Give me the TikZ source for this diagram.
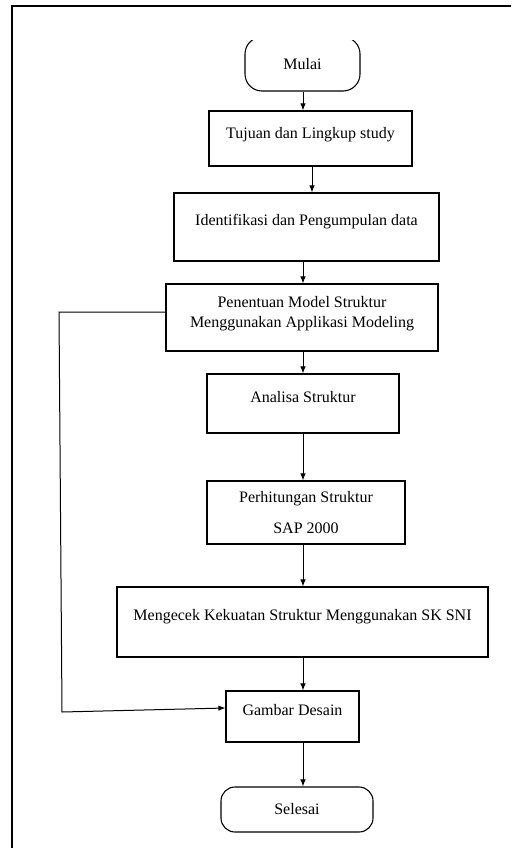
\documentclass[tikz,border=0pt]{standalone}
\usepackage{fontspec}
\setmainfont{Liberation Serif}
\usetikzlibrary{arrows.meta}
\newcommand\dnstrut[1]{\rule[-#1pt]{0pt}{#1pt}}
\begin{document}
\begin{tikzpicture}[x=1pt,y=-1pt,
  box/.style={draw=black, line width=1.1pt, inner sep=2pt, font=\fontsize{16}{20}\selectfont, align=center},
  term/.style={box},
  arr/.style={line width=1pt, -{Latex[length=7pt,width=5.5pt]}},
  frameline/.style={line width=2pt, draw=black}]
\useasboundingbox (0,0) rectangle (511,848);
% frame
\coordinate (fa) at (12,848);
\coordinate (fb) at (12,6);
\coordinate (fc) at (511,6);
\draw[frameline] (fa) -- (fb) -- (fc);
% axis coordinates
\coordinate (ax) at (303,0);
\coordinate (ax2) at (312,0);
% start terminal (top edge cut off)
\begin{scope}
\clip (0,41) rectangle (511,848);
\node[term, rounded corners=17pt, minimum width=115pt, minimum height=54pt] (mulai) at (302.5,64) {Mulai};
\end{scope}
\node[box, minimum width=203pt, minimum height=55pt] (b1) at (310.5,138.5) {Tujuan dan Lingkup study\dnstrut{11.3}};
\node[box, minimum width=265pt, minimum height=68pt] (b2) at (306.5,227) {Identifikasi dan Pengumpulan data\dnstrut{14.3}};
\node[box, minimum width=272pt, minimum height=67pt] (b3) at (302,317.5) {Penentuan Model Struktur\\Menggunakan Applikasi Modeling\dnstrut{11.3}};
\node[box, minimum width=192pt, minimum height=59pt] (b4) at (303,403.5) {Analisa Struktur\dnstrut{13.3}};
\node[box, minimum width=198pt, minimum height=63pt] (b5) at (306,512.5) {Perhitungan Struktur\\[11pt]SAP 2000};
\node[box, minimum width=371pt, minimum height=70pt] (b6) at (302.5,622) {Mengecek Kekuatan Struktur Menggunakan SK SNI\dnstrut{14.3}};
\node[box, minimum width=133pt, minimum height=51pt] (b7) at (292.5,716.5) {Gambar Desain\dnstrut{13.3}};
\node[term, rounded corners=14pt, minimum width=152pt, minimum height=45pt] (end) at (297,809.5) {Selesai};
% arrows
\draw[arr] (mulai.south -| ax) -- (b1.north -| ax);
\draw[arr] (b1.south -| ax2) -- (b2.north -| ax2);
\draw[arr] (b2.south -| ax) -- (b3.north -| ax);
\draw[arr] (b3.south -| ax) -- (b4.north -| ax);
\draw[arr] (b4.south -| ax) -- (b5.north -| ax);
\draw[arr] (b5.south -| ax) -- (b6.north -| ax);
\draw[arr] (b6.south -| ax) -- (b7.north -| ax);
\draw[arr] (b7.south -| ax) -- (end.north -| ax);
% feedback connector
\coordinate (f1) at (59,312);
\coordinate (f2) at (62,712);
\draw[arr] ([yshift=5.5pt]b3.west) -- (f1) -- (f2) -- ([yshift=8.5pt]b7.west);
\end{tikzpicture}
\end{document}
